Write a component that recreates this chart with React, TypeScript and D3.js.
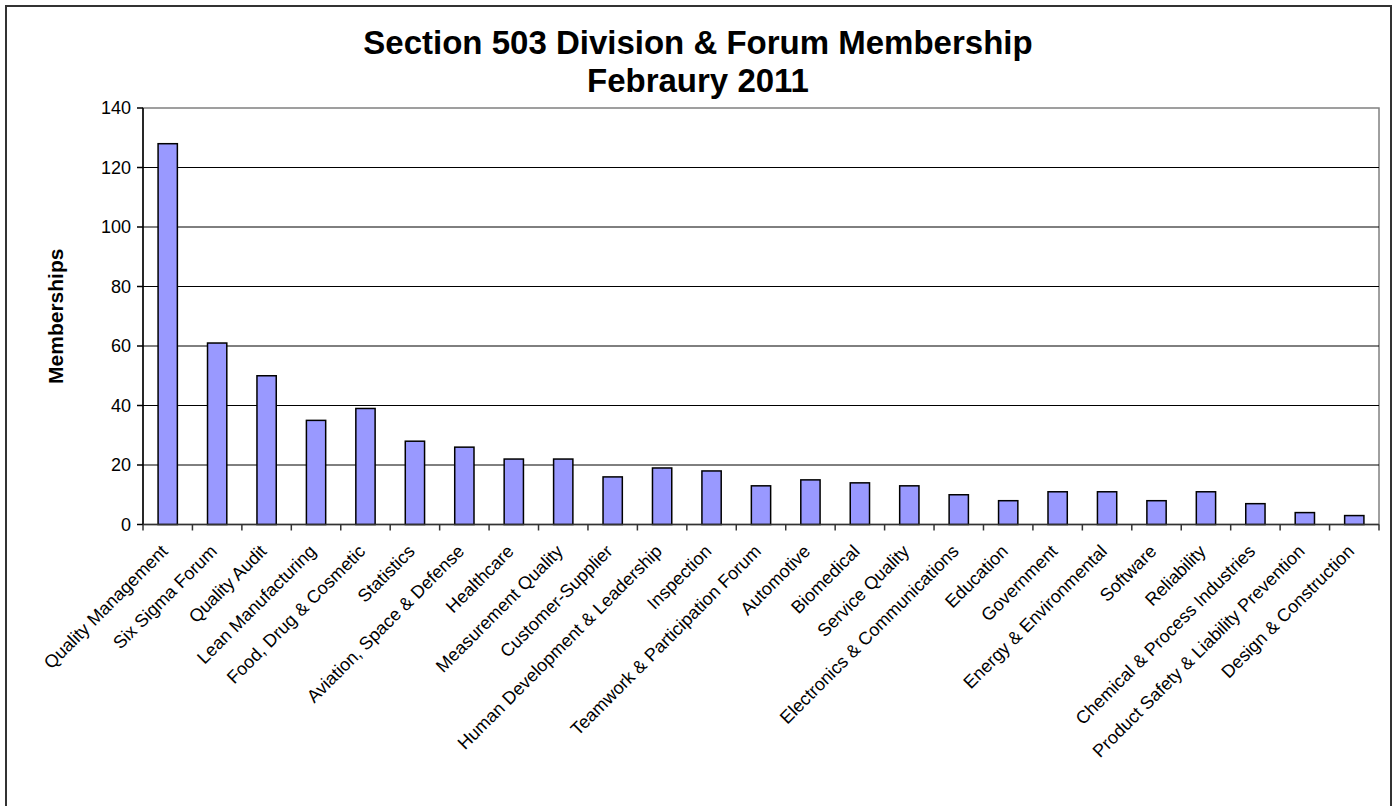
import React from "react";
import * as d3 from "d3";

const categories: string[] = [
  "Quality Management",
  "Six Sigma Forum",
  "Quality Audit",
  "Lean Manufacturing",
  "Food, Drug & Cosmetic",
  "Statistics",
  "Aviation, Space & Defense",
  "Healthcare",
  "Measurement Quality",
  "Customer-Supplier",
  "Human Development & Leadership",
  "Inspection",
  "Teamwork & Participation Forum",
  "Automotive",
  "Biomedical",
  "Service Quality",
  "Electronics & Communications",
  "Education",
  "Government",
  "Energy & Environmental",
  "Software",
  "Reliability",
  "Chemical & Process Industries",
  "Product Safety & Liability Prevention",
  "Design & Construction",
];

const memberships: number[] = [
  128, 61, 50, 35, 39, 28, 26, 22, 22, 16, 19, 18, 13, 15, 14, 13, 10, 8, 11,
  11, 8, 11, 7, 4, 3,
];

const yTicks: number[] = [0, 20, 40, 60, 80, 100, 120, 140];

const titleLines: string[] = [
  "Section 503 Division & Forum Membership",
  "Febraury 2011",
];

const W = 1394;
const H = 806;
const plotLeft = 143;
const plotRight = 1379;
const plotTop = 108;
const plotBottom = 524.5;

const font = "Arial, 'Liberation Sans', sans-serif";

export default function App() {
  const x = d3
    .scaleBand<string>()
    .domain(categories)
    .range([plotLeft, plotRight])
    .paddingInner(0.61)
    .paddingOuter(0.305);

  // category boundaries for tick marks
  const xCat = d3
    .scaleBand<string>()
    .domain(categories)
    .range([plotLeft, plotRight])
    .padding(0);

  const y = d3.scaleLinear().domain([0, 140]).range([plotBottom, plotTop]);

  const tickXs = categories
    .map((c) => xCat(c) as number)
    .concat([plotRight]);

  return (
    <svg
      width={W}
      height={H}
      style={{ position: "absolute", left: 0, top: 0, background: "#fff" }}
    >
      {/* outer chart border */}
      <rect
        x={6}
        y={6}
        width={1385}
        height={830}
        fill="white"
        stroke="#333"
        strokeWidth={2}
      />

      {/* title */}
      {titleLines.map((t, i) => (
        <text
          key={t}
          x={698}
          y={54 + i * 38}
          textAnchor="middle"
          fontFamily={font}
          fontWeight="bold"
          fontSize={33}
        >
          {t}
        </text>
      ))}

      {/* plot border (top/right gray) */}
      <rect
        x={plotLeft}
        y={plotTop}
        width={plotRight - plotLeft}
        height={plotBottom - plotTop}
        fill="none"
        stroke="#808080"
        strokeWidth={1.5}
      />

      {/* gridlines */}
      {yTicks
        .filter((t) => t > 0 && t < 140)
        .map((t) => (
          <line
            key={t}
            x1={plotLeft}
            x2={plotRight}
            y1={y(t)}
            y2={y(t)}
            stroke="#000"
            strokeWidth={1}
          />
        ))}

      {/* bars */}
      {categories.map((c, i) => (
        <rect
          key={c}
          x={x(c)}
          y={y(memberships[i])}
          width={x.bandwidth()}
          height={y(0) - y(memberships[i])}
          fill="#9999FF"
          stroke="#000"
          strokeWidth={1.5}
        />
      ))}

      {/* y axis */}
      <line
        x1={plotLeft}
        x2={plotLeft}
        y1={plotTop}
        y2={plotBottom}
        stroke="#000"
        strokeWidth={1.5}
      />
      {yTicks.map((t) => (
        <g key={t}>
          <line
            x1={plotLeft - 6}
            x2={plotLeft}
            y1={y(t)}
            y2={y(t)}
            stroke="#000"
            strokeWidth={1.5}
          />
          <text
            x={plotLeft - 12}
            y={y(t)}
            dy="0.36em"
            textAnchor="end"
            fontFamily={font}
            fontSize={18}
          >
            {t}
          </text>
        </g>
      ))}

      {/* x axis */}
      <line
        x1={plotLeft}
        x2={plotRight}
        y1={plotBottom}
        y2={plotBottom}
        stroke="#333"
        strokeWidth={1.5}
      />
      {tickXs.map((tx, i) => (
        <line
          key={i}
          x1={tx}
          x2={tx}
          y1={plotBottom}
          y2={plotBottom + 6}
          stroke="#333"
          strokeWidth={1.5}
        />
      ))}
      {categories.map((c) => {
        const cx = (xCat(c) as number) + xCat.bandwidth() / 2 + 1;
        const cy = plotBottom + 28;
        return (
          <text
            key={c}
            transform={`translate(${cx},${cy}) rotate(-45)`}
            textAnchor="end"
            fontFamily={font}
            fontSize={18}
          >
            {c}
          </text>
        );
      })}

      {/* y axis title */}
      <text
        transform={`translate(63,${(plotTop + plotBottom) / 2}) rotate(-90)`}
        textAnchor="middle"
        fontFamily={font}
        fontWeight="bold"
        fontSize={21}
      >
        Memberships
      </text>
    </svg>
  );
}
